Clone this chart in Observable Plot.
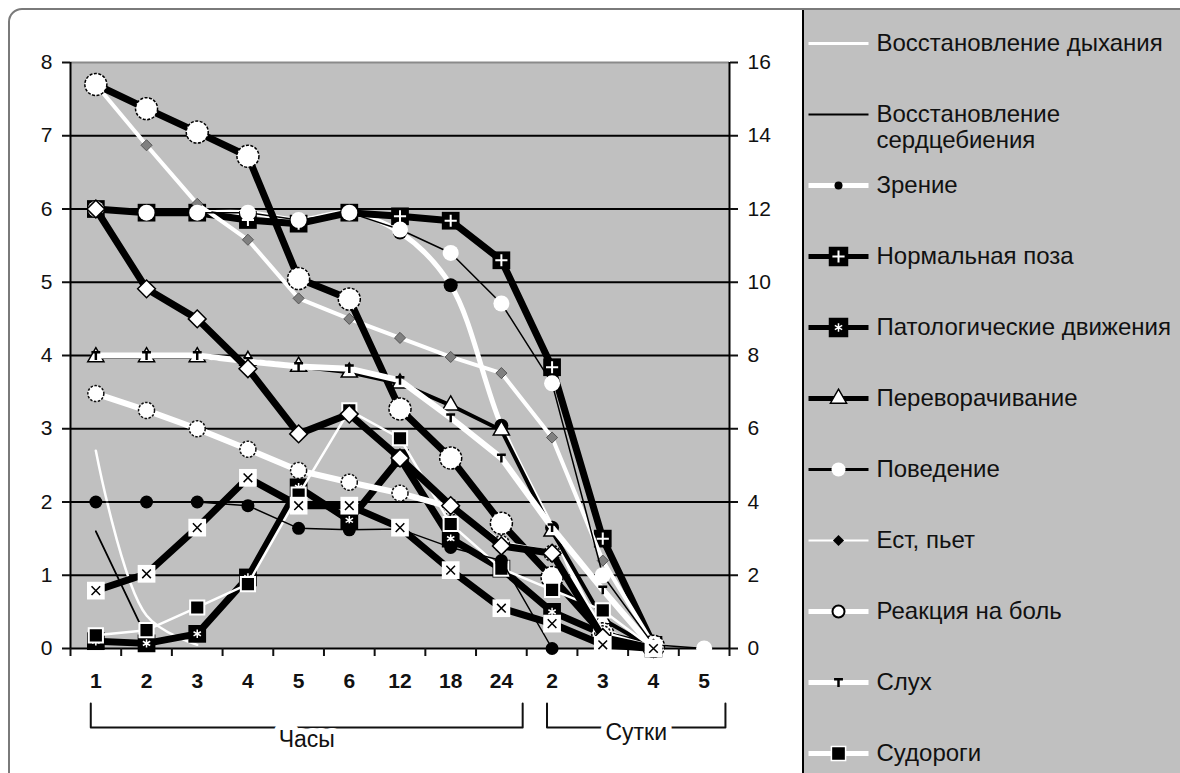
<!DOCTYPE html>
<html><head><meta charset="utf-8">
<script src="https://cdn.jsdelivr.net/npm/d3@7"></script>
<script src="https://cdn.jsdelivr.net/npm/@observablehq/plot@0.6"></script>
<style>
html,body{margin:0;padding:0;background:#fff;}
#wrap{position:relative;width:1180px;height:773px;overflow:hidden;font-family:"Liberation Sans",Arial,sans-serif;}
#border{position:absolute;left:8px;top:8px;width:1220px;height:820px;border:2px solid #7a7a7a;border-radius:14px;box-sizing:border-box;}
#chart{position:absolute;left:0;top:0;}
#legend{position:absolute;left:802px;top:10px;width:378px;height:763px;background:#c0c0c0;border-left:2px solid #000;box-sizing:border-box;}
</style></head>
<body><div id="wrap"><div id="border"></div><div id="chart"></div><div id="legend"></div></div>
<script>
// ---------- data ----------
const categories = ["1","2","3","4","5","6","12","18","24","2","3","4","5"];
const groups = [{label:"Часы", first:0, last:8}, {label:"Сутки", first:9, last:12}];
const leftTicks = [0,1,2,3,4,5,6,7,8];
const rightTicks = [0,2,4,6,8,10,12,14,16];

const vBreath    = [2.7,0.45,0.05,null,null,null,null,null,null,null,null,null,null];
const vHeart     = [1.6,0.15,null,null,null,null,null,null,null,null,null,null,null];
const vVisionA   = [6.0,5.95,5.95,5.95,5.85,5.95,5.68,4.96,3.04,1.65,0.3,0,null];
const vVisionB   = [2.0,2.0,2.0,1.95,1.64,1.62,1.63,1.38,1.2,0,null,null,null];
const vPosture   = [6.0,5.95,5.95,5.85,5.8,5.95,5.9,5.84,5.3,3.84,1.5,0.05,null];
const vPathoA    = [0.1,0.07,0.2,0.97,2.2,1.75,2.6,1.5,1.09,0.5,0.2,0,null];
const vPathoB    = [0.79,1.02,1.65,2.33,1.95,1.95,1.65,1.07,0.55,0.34,0.05,0,null];
const vTurning   = [3.98,3.98,3.98,3.93,3.85,3.77,3.62,3.32,2.98,1.6,0.4,0,null];
const vBehaviorA = [7.7,7.37,7.05,6.72,5.05,4.77,3.27,2.6,1.71,0.97,0.2,0.03,null];
const vBehaviorB = [6.0,5.95,5.95,5.95,5.85,5.95,5.72,5.4,4.71,3.62,1.0,0.05,0];
const vEat       = [7.7,6.87,6.07,5.58,4.78,4.5,4.24,3.98,3.76,2.88,1.2,0.05,null];
const vDiamond   = [6.0,4.91,4.5,3.82,2.93,3.2,2.6,1.95,1.4,1.3,0.15,0,null];
const vPain      = [3.48,3.25,3.0,2.72,2.43,2.27,2.12,1.93,1.43,1.3,0.2,0,null];
const vHearing   = [4.0,4.0,4.0,3.92,3.85,3.82,3.66,3.15,2.6,1.65,0.8,0,null];
const vSeizures  = [0.18,0.25,0.56,0.88,2.1,3.25,2.87,1.7,1.09,0.8,0.52,0,null];

const legendLabels = ["Восстановление дыхания","Восстановление\nсердцебиения","Зрение","Нормальная поза",
  "Патологические движения","Переворачивание","Поведение","Ест, пьет","Реакция на боль","Слух","Судороги"];

// ---------- styles ----------
const symbolT = {draw(ctx, size){ const s = Math.sqrt(size)/2; ctx.rect(-s,-s,2*s,s*0.55); ctx.rect(-s*0.28,-s,s*0.56,2*s); }};

const series = [
  {values:vBreath,   stroke:"#fff", width:2.5, curve:"catmull-rom", markers:[]},
  {values:vHeart,    stroke:"#000", width:1.8, markers:[]},
  {values:vVisionA,  stroke:"#fff", width:5, curve:"catmull-rom", markers:[{symbol:"circle", r:7, fill:"#000"}]},
  {values:vPosture,  stroke:"#000", width:7, markers:[{symbol:"square", r:10, fill:"#000"},{symbol:"plus", r:4, stroke:"#fff", sw:2}]},
  {values:vPathoA,   stroke:"#000", width:7, markers:[{symbol:"square", r:10, fill:"#000"},{symbol:"asterisk", r:4, stroke:"#fff", sw:1.5}]},
  {values:vTurning,  stroke:"#000", width:4, markers:[{symbol:"triangle", r:6, fill:"#fff", stroke:"#000", sw:1.5}]},
  {values:vEat,      stroke:"#fff", width:4, markers:[{symbol:"diamond2", r:5, fill:"#808080", stroke:"#555", sw:1}]},
  {values:vBehaviorA,stroke:"#000", width:7, markers:[{symbol:"circle", r:11, fill:"#fff", stroke:"#000", sw:1.5, dash:"3,1.5"}]},
  {values:vPain,     stroke:"#fff", width:6, markers:[{symbol:"circle", r:8, fill:"#fff", stroke:"#111", sw:1.5, dash:"2.5,1.5"}]},
  {values:vHearing,  stroke:"#fff", width:6, markers:[{symbol:symbolT, r:5, fill:"#000"}]},
  {values:vSeizures, stroke:"#fff", width:2.5, markers:[{symbol:"square", r:8, fill:"#000", stroke:"#fff", sw:2}]},
  {values:vBehaviorB,stroke:"#000", width:1.5, markers:[{symbol:"circle", r:8, fill:"#fff"}]},
  {values:vDiamond,  stroke:"#000", width:7, markers:[{symbol:"diamond2", r:8, fill:"#fff", stroke:"#000", sw:1.5}]},
  {values:vVisionB,  stroke:"#000", width:1.5, markers:[{symbol:"circle", r:6.5, fill:"#000"}]},
  {values:vPathoB,   stroke:"#000", width:7, markers:[{symbol:"square", r:10, fill:"#fff"},{symbol:"times", r:4, stroke:"#000", sw:1.5}]}
];

const legendStyles = [
  {stroke:"#fff", width:3, markers:[]},
  {stroke:"#000", width:2, markers:[]},
  {stroke:"#fff", width:5, markers:[{symbol:"circle", r:4, fill:"#000"}]},
  {stroke:"#000", width:5, markers:[{symbol:"square", r:11, fill:"#000"},{symbol:"plus", r:4, stroke:"#fff", sw:2}]},
  {stroke:"#000", width:5, markers:[{symbol:"square", r:11, fill:"#000"},{symbol:"asterisk", r:4, stroke:"#fff", sw:1.5}]},
  {stroke:"#000", width:5, markers:[{symbol:"triangle", r:6, fill:"#fff", stroke:"#000", sw:1.5}]},
  {stroke:"#000", width:3, markers:[{symbol:"circle", r:7, fill:"#fff"}]},
  {stroke:"#fff", width:2, markers:[{symbol:"diamond2", r:5, fill:"#000"}]},
  {stroke:"#fff", width:5, markers:[{symbol:"circle", r:6, fill:"#fff", stroke:"#000", sw:2}]},
  {stroke:"#fff", width:5, markers:[{symbol:symbolT, r:5, fill:"#000"}]},
  {stroke:"#fff", width:5, markers:[{symbol:"square", r:8, fill:"#000", stroke:"#fff", sw:1.5}]}
];

// ---------- main chart ----------
const font = "'Liberation Sans', Arial, sans-serif";
const yMax = leftTicks[leftTicks.length-1], rMax = rightTicks[rightTicks.length-1];
const marks = [
  Plot.frame({fill:"#c0c0c0"}),
  Plot.ruleY(leftTicks.slice(1,-1), {stroke:"#000", strokeWidth:2}),
  Plot.ruleY([yMax], {stroke:"#8a8a8a", strokeWidth:2}),
  Plot.ruleY([0], {stroke:"#000", strokeWidth:2}),
  Plot.ruleX([-0.5, categories.length-0.5], {stroke:"#000", strokeWidth:2}),
  Plot.axisY({anchor:"left", ticks:leftTicks, tickSize:8, tickPadding:10, strokeWidth:2, label:null}),
  Plot.axisY({anchor:"right", ticks:rightTicks.map(t=>t*yMax/rMax),
    tickFormat:t=>String(Math.round(t*rMax/yMax)), tickSize:8, tickPadding:10, strokeWidth:2, label:null}),
  Plot.axisX({ticks:d3.range(-0.5, categories.length, 1), tickSize:8, tickFormat:()=>"", strokeWidth:2, label:null}),
  Plot.axisX({ticks:d3.range(categories.length), tickSize:0, tickPadding:25, tickFormat:i=>categories[i], fontWeight:"bold", label:null})
];
for (const s of series) {
  const rows = s.values.map((v,i)=>({i, v}));
  marks.push(Plot.line(rows, {x:"i", y:"v", stroke:s.stroke, strokeWidth:s.width, curve:s.curve || "linear", strokeLinejoin:"round"}));
  const pts = rows.filter(d=>d.v!=null);
  for (const m of s.markers) {
    marks.push(Plot.dot(pts, {x:"i", y:"v", symbol:m.symbol, r:m.r, fill:m.fill || "none", stroke:m.stroke || "none", strokeWidth:m.sw || 1, strokeDasharray:m.dash}));
  }
}
// group brackets under the x axis
const bracketTop = -0.75, bracketBottom = -1.08;
for (const g of groups) {
  const a = g.first - 0.1, b = g.last + 0.42;
  marks.push(Plot.line([{x:a,y:bracketTop},{x:a,y:bracketBottom},{x:b,y:bracketBottom},{x:b,y:bracketTop}],
    {x:"x", y:"y", stroke:"#111", strokeWidth:2}));
  marks.push(Plot.text([g], {x:(a+b)/2, y:bracketBottom, text:"label", dy:g.first===0?12:5, fontSize:23, fill:"#111",
    stroke:"#fff", strokeWidth:12, paintOrder:"stroke"}));
}
const chart = Plot.plot({
  width:800, height:773, marginLeft:70, marginRight:71, marginTop:62, marginBottom:125,
  x:{type:"linear", domain:[-0.5, categories.length-0.5]},
  y:{type:"linear", domain:[0, yMax]},
  style:{fontFamily:font, fontSize:"21px", background:"transparent", color:"#111", overflow:"visible"},
  marks
});
document.getElementById("chart").appendChild(chart);

// ---------- legend ----------
const lrows = legendLabels.map((label,k)=>({label, k}));
const lmarks = [];
lrows.forEach((d,k)=>{
  const st = legendStyles[k];
  lmarks.push(Plot.link([d], {x1:4, x2:64, y1:"label", y2:"label", stroke:st.stroke, strokeWidth:st.width}));
  for (const m of st.markers) lmarks.push(Plot.dot([d], {x:34, y:"label", symbol:m.symbol, r:m.r, fill:m.fill||"none", stroke:m.stroke||"none", strokeWidth:m.sw||1}));
});
lmarks.push(Plot.text(lrows, {x:72, y:"label", text:"label", textAnchor:"start", lineAnchor:"top", dy:-10, fontSize:24, lineHeight:1.05, fill:"#111"}));
const legend = Plot.plot({
  width:376, height:763, margin:0,
  x:{type:"identity"},
  y:{type:"point", domain:legendLabels, range:[30, 745], padding:0, axis:null},
  style:{fontFamily:font, background:"transparent", overflow:"visible"},
  marks:lmarks
});
document.getElementById("legend").appendChild(legend);
</script>
</body></html>
